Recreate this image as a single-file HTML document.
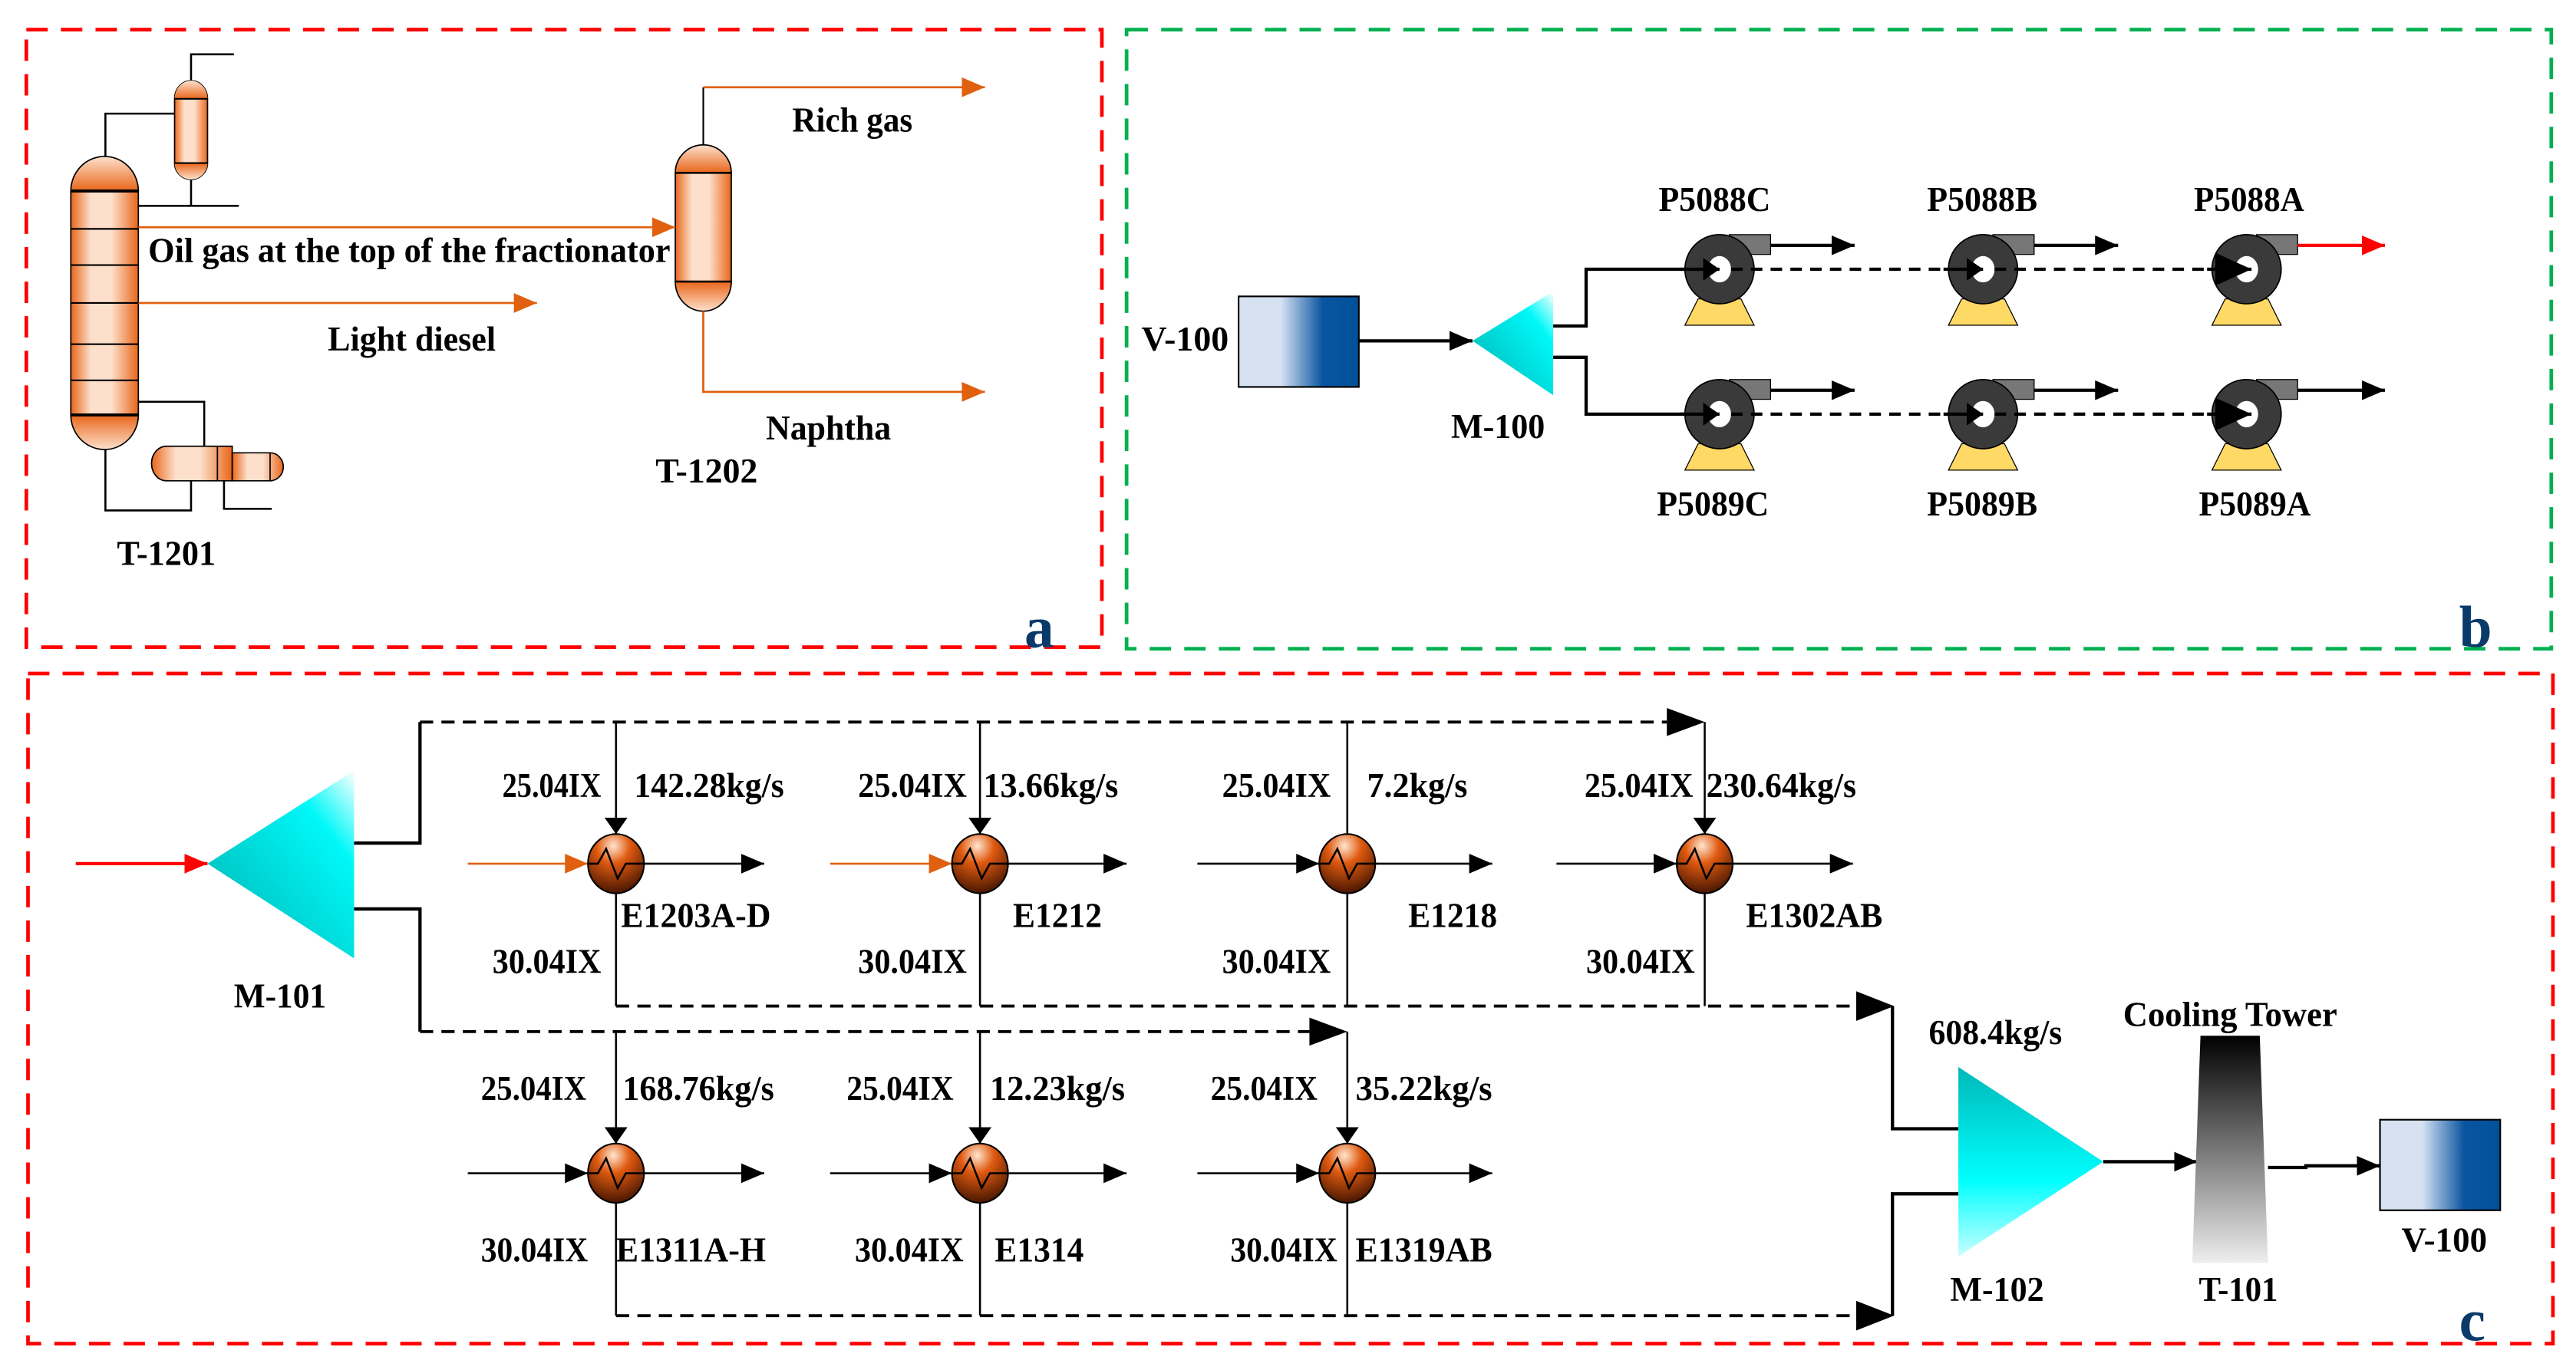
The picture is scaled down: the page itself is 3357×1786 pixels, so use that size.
<!DOCTYPE html>
<html><head><meta charset="utf-8"><style>
html,body{margin:0;padding:0;background:#fff;}
svg{display:block;}
text{font-family:"Liberation Serif",serif;font-weight:bold;fill:#000;}
</style></head><body>
<svg width="3357" height="1786" viewBox="0 0 1564 832" preserveAspectRatio="none" xmlns="http://www.w3.org/2000/svg">
<defs>
<marker id="ab" markerUnits="userSpaceOnUse" markerWidth="14" markerHeight="12" refX="14" refY="6" orient="auto"><path d="M0,0 L14,6 L0,12 z" fill="#000"/></marker>
<marker id="abs" markerUnits="userSpaceOnUse" markerWidth="10" markerHeight="14" refX="10" refY="7" orient="auto"><path d="M0,0 L10,7 L0,14 z" fill="#000"/></marker>
<marker id="abig" markerUnits="userSpaceOnUse" markerWidth="22" markerHeight="20" refX="22" refY="10" orient="auto"><path d="M0,0 L22,10 L0,20 z" fill="#000"/></marker>
<marker id="ao" markerUnits="userSpaceOnUse" markerWidth="14" markerHeight="12" refX="14" refY="6" orient="auto"><path d="M0,0 L14,6 L0,12 z" fill="#e06010"/></marker>
<marker id="ar" markerUnits="userSpaceOnUse" markerWidth="14" markerHeight="12" refX="14" refY="6" orient="auto"><path d="M0,0 L14,6 L0,12 z" fill="#ff0000"/></marker>
<linearGradient id="col" x1="0" x2="1" y1="0" y2="0"><stop offset="0" stop-color="#e8661a"/><stop offset="0.3" stop-color="#fde0cc"/><stop offset="0.6" stop-color="#fde0cc"/><stop offset="1" stop-color="#e8661a"/></linearGradient>
<linearGradient id="domeT" x1="0" x2="0" y1="0" y2="1"><stop offset="0" stop-color="#fde0cc"/><stop offset="1" stop-color="#e8661a"/></linearGradient>
<linearGradient id="domeB" x1="0" x2="0" y1="0" y2="1"><stop offset="0" stop-color="#e8661a"/><stop offset="1" stop-color="#fde0cc"/></linearGradient>
<linearGradient id="vessel" x1="0" x2="1"><stop offset="0" stop-color="#d6e2f2"/><stop offset="0.35" stop-color="#d6e2f2"/><stop offset="0.7" stop-color="#0a55a0"/><stop offset="1" stop-color="#00509a"/></linearGradient>
<linearGradient id="cyan1" x1="1" y1="0" x2="0" y2="1"><stop offset="0" stop-color="#ffffff"/><stop offset="0.25" stop-color="#00f8f8"/><stop offset="1" stop-color="#00b0b0"/></linearGradient>
<linearGradient id="cyan2" x1="0" y1="0" x2="0" y2="1"><stop offset="0" stop-color="#00b8b8"/><stop offset="0.6" stop-color="#00ffff"/><stop offset="1" stop-color="#c8ffff"/></linearGradient>
<linearGradient id="tower" x1="0" y1="0" x2="0" y2="1"><stop offset="0" stop-color="#000"/><stop offset="1" stop-color="#eeeeee"/></linearGradient>
<radialGradient id="he" cx="0.45" cy="0.2" r="0.85"><stop offset="0" stop-color="#ffe6d0"/><stop offset="0.35" stop-color="#e05a10"/><stop offset="1" stop-color="#3a1000"/></radialGradient>
<g id="hx"><ellipse cx="0" cy="0" rx="17" ry="18" fill="url(#he)" stroke="#000" stroke-width="1"/><path d="M-17,0 L-11,0 L-6,-9 L1,9 L6,0 L17,0" fill="none" stroke="#000" stroke-width="1.2"/></g>
<g id="pump">
<polygon points="-13,18 13,18 21,34 -21,34" fill="#ffd966" stroke="#000" stroke-width="0.6"/>
<rect x="6" y="-21" width="25" height="12" fill="#777" stroke="#000" stroke-width="0.6"/>
<circle cx="0" cy="0" r="21" fill="#3a3a3a" stroke="#000" stroke-width="0.8"/>
<ellipse cx="0" cy="0" rx="7" ry="8" fill="#fff"/>
</g>
</defs>

<rect x="16" y="18" width="653" height="375" fill="none" stroke="#ff0000" stroke-width="2.2" stroke-dasharray="13,8"/>
<rect x="684" y="18" width="865" height="376" fill="none" stroke="#00b050" stroke-width="2.2" stroke-dasharray="13,8"/>
<rect x="17" y="409" width="1533" height="407" fill="none" stroke="#ff0000" stroke-width="2.2" stroke-dasharray="13,8"/>

<g stroke="#000" stroke-width="1.2" fill="none">
<polyline points="116,49 116,33 142,33"/>
<polyline points="64,95 64,69 106,69"/>
<polyline points="116,109 116,125"/>
<line x1="84" y1="125" x2="145" y2="125"/>
<polyline points="84,244 124,244 124,271"/>
<polyline points="64,273 64,310 116,310 116,292"/>
<polyline points="136,292 136,309 165,309"/>
</g>
<path d="M106,60 A10,11 0 0 1 126,60 L126,99 A10,10 0 0 1 106,99 Z" fill="url(#col)" stroke="#000" stroke-width="0.8"/>
<path d="M106,60 A10,11 0 0 1 126,60 Z" fill="url(#domeT)"/>
<path d="M106,99 L126,99 A10,10 0 0 1 106,99 Z" fill="url(#domeB)"/>
<line x1="106" y1="60" x2="126" y2="60" stroke="#000" stroke-width="1"/>
<line x1="106" y1="99" x2="126" y2="99" stroke="#000" stroke-width="1"/>
<rect x="43" y="116" width="41" height="136" fill="url(#col)" stroke="#000" stroke-width="0.8"/>
<path d="M43,116 A20.5,21 0 0 1 84,116 Z" fill="url(#domeT)" stroke="#000" stroke-width="0.8"/>
<path d="M43,252 L84,252 A20.5,21 0 0 1 43,252 Z" fill="url(#domeB)" stroke="#000" stroke-width="0.8"/>
<g stroke="#000"><line x1="43" y1="116" x2="84" y2="116" stroke-width="1.8"/><line x1="43" y1="252" x2="84" y2="252" stroke-width="1.8"/>
<line x1="43" y1="139" x2="84" y2="139" stroke-width="1"/><line x1="43" y1="161" x2="84" y2="161" stroke-width="1"/><line x1="43" y1="184" x2="84" y2="184" stroke-width="1"/><line x1="43" y1="209" x2="84" y2="209" stroke-width="1"/><line x1="43" y1="231" x2="84" y2="231" stroke-width="1"/></g>
<path d="M101,271 L141,271 L141,292 L101,292 A9,10.5 0 0 1 101,271 Z" fill="url(#col)" stroke="#000" stroke-width="0.8"/>
<path d="M141,275 L164,275 A8,8.5 0 0 1 164,292 L141,292 Z" fill="url(#col)" stroke="#000" stroke-width="0.8"/>
<line x1="132" y1="271" x2="132" y2="292" stroke="#000" stroke-width="0.8"/>
<line x1="164" y1="275" x2="164" y2="292" stroke="#000" stroke-width="0.8"/>
<rect x="410" y="105" width="34" height="66" fill="url(#col)" stroke="#000" stroke-width="0.8"/>
<path d="M410,105 A17,17 0 0 1 444,105 Z" fill="url(#domeT)" stroke="#000" stroke-width="0.8"/>
<path d="M410,171 L444,171 A17,18 0 0 1 410,171 Z" fill="url(#domeB)" stroke="#000" stroke-width="0.8"/>
<line x1="410" y1="105" x2="444" y2="105" stroke="#000" stroke-width="1.2"/>
<line x1="410" y1="171" x2="444" y2="171" stroke="#000" stroke-width="1.2"/>
<line x1="427" y1="88" x2="427" y2="53" stroke="#000" stroke-width="1"/>
<g stroke="#e06010" stroke-width="1.3" fill="none">
<line x1="427" y1="53" x2="598" y2="53" marker-end="url(#ao)"/>
<polyline points="427,189 427,238 598,238" marker-end="url(#ao)"/>
<line x1="84" y1="138" x2="410" y2="138" marker-end="url(#ao)"/>
<line x1="84" y1="184" x2="326" y2="184" marker-end="url(#ao)"/>
</g>
<g font-size="21">
<text x="90" y="159" textLength="317" lengthAdjust="spacingAndGlyphs">Oil gas at the top of the fractionator</text>
<text x="199" y="213" textLength="102" lengthAdjust="spacingAndGlyphs">Light diesel</text>
<text x="481" y="80" textLength="73" lengthAdjust="spacingAndGlyphs">Rich gas</text>
<text x="465" y="267" textLength="76" lengthAdjust="spacingAndGlyphs">Naphtha</text>
<text x="398" y="293" textLength="62" lengthAdjust="spacingAndGlyphs">T-1202</text>
<text x="71" y="343" textLength="60" lengthAdjust="spacingAndGlyphs">T-1201</text>
</g>
<text x="622" y="393" font-size="36" style="fill:#0a3a6a" font-family="Liberation Serif">a</text>

<rect x="752" y="180" width="73" height="55" fill="url(#vessel)" stroke="#000" stroke-width="1"/>
<line x1="825" y1="207" x2="894" y2="207" stroke="#000" stroke-width="2" marker-end="url(#ab)"/>
<polygon points="894,207 943,177 943,240" fill="url(#cyan1)"/>
<polyline points="943,198 963,198 963,163.5 1040,163.5" fill="none" stroke="#000" stroke-width="2"/>
<polyline points="943,217 963,217 963,251.5 1040,251.5" fill="none" stroke="#000" stroke-width="2"/>
<use href="#pump" x="1044" y="163.5"/><use href="#pump" x="1204" y="163.5"/><use href="#pump" x="1364" y="163.5"/>
<use href="#pump" x="1044" y="251.5"/><use href="#pump" x="1204" y="251.5"/><use href="#pump" x="1364" y="251.5"/>
<g stroke="#000" stroke-width="2" fill="none">
<line x1="1020" y1="163.5" x2="1044" y2="163.5" marker-end="url(#abs)"/>
<line x1="1020" y1="251.5" x2="1044" y2="251.5" marker-end="url(#abs)"/>
<line x1="1051" y1="163.5" x2="1180" y2="163.5" stroke-dasharray="7,5"/>
<line x1="1180" y1="163.5" x2="1204" y2="163.5" marker-end="url(#abs)"/>
<line x1="1211" y1="163.5" x2="1340" y2="163.5" stroke-dasharray="7,5"/>
<line x1="1340" y1="163.5" x2="1367" y2="163.5" marker-end="url(#abig)"/>
<line x1="1051" y1="251.5" x2="1180" y2="251.5" stroke-dasharray="7,5"/>
<line x1="1180" y1="251.5" x2="1204" y2="251.5" marker-end="url(#abs)"/>
<line x1="1211" y1="251.5" x2="1340" y2="251.5" stroke-dasharray="7,5"/>
<line x1="1340" y1="251.5" x2="1367" y2="251.5" marker-end="url(#abig)"/>
<line x1="1075" y1="149" x2="1126" y2="149" marker-end="url(#ab)"/>
<line x1="1235" y1="149" x2="1286" y2="149" marker-end="url(#ab)"/>
<line x1="1075" y1="237" x2="1126" y2="237" marker-end="url(#ab)"/>
<line x1="1235" y1="237" x2="1286" y2="237" marker-end="url(#ab)"/>
<line x1="1395" y1="237" x2="1448" y2="237" marker-end="url(#ab)"/>
</g>
<line x1="1395" y1="149" x2="1448" y2="149" stroke="#ff0000" stroke-width="2" marker-end="url(#ar)"/>
<g font-size="21">
<text x="693" y="213" textLength="53" lengthAdjust="spacingAndGlyphs">V-100</text>
<text x="881" y="266" textLength="57" lengthAdjust="spacingAndGlyphs">M-100</text>
<text x="1007" y="128" textLength="68" lengthAdjust="spacingAndGlyphs">P5088C</text>
<text x="1170" y="128" textLength="67" lengthAdjust="spacingAndGlyphs">P5088B</text>
<text x="1332" y="128" textLength="67" lengthAdjust="spacingAndGlyphs">P5088A</text>
<text x="1006" y="313" textLength="68" lengthAdjust="spacingAndGlyphs">P5089C</text>
<text x="1170" y="313" textLength="67" lengthAdjust="spacingAndGlyphs">P5089B</text>
<text x="1335" y="313" textLength="68" lengthAdjust="spacingAndGlyphs">P5089A</text>
</g>
<text x="1493" y="393" font-size="36" style="fill:#0a3a6a" font-family="Liberation Serif">b</text>

<line x1="46" y1="524.5" x2="126" y2="524.5" stroke="#ff0000" stroke-width="2" marker-end="url(#ar)"/>
<polygon points="126,524.5 215,468 215,582" fill="url(#cyan1)"/>
<g fill="none" stroke="#000">
<polyline points="215,512 255,512 255,438.5" stroke-width="2"/>
<line x1="255" y1="438.5" x2="1012" y2="438.5" stroke-width="1.8" stroke-dasharray="8,5"/>
<polyline points="215,552 255,552 255,626.5" stroke-width="2"/>
<line x1="255" y1="626.5" x2="795" y2="626.5" stroke-width="1.8" stroke-dasharray="8,5"/>
<line x1="374" y1="611" x2="1128" y2="611" stroke-width="1.8" stroke-dasharray="8,5"/>
<line x1="374" y1="799" x2="1128" y2="799" stroke-width="1.8" stroke-dasharray="8,5"/>
<polyline points="1149,611 1149,685.5 1189,685.5" stroke-width="2"/>
<polyline points="1149,799 1149,725 1189,725" stroke-width="2"/>
<line x1="374" y1="438.5" x2="374" y2="506.5" stroke-width="1.2" marker-end="url(#abs)"/>
<line x1="595" y1="438.5" x2="595" y2="506.5" stroke-width="1.2" marker-end="url(#abs)"/>
<line x1="818" y1="438.5" x2="818" y2="506.5" stroke-width="1.2"/>
<line x1="1035" y1="438.5" x2="1035" y2="506.5" stroke-width="1.2" marker-end="url(#abs)"/>
<line x1="374" y1="542" x2="374" y2="611" stroke-width="1.2"/>
<line x1="595" y1="542" x2="595" y2="611" stroke-width="1.2"/>
<line x1="818" y1="542" x2="818" y2="611" stroke-width="1.2"/>
<line x1="1035" y1="542" x2="1035" y2="611" stroke-width="1.2"/>
<line x1="374" y1="626.5" x2="374" y2="694.5" stroke-width="1.2" marker-end="url(#abs)"/>
<line x1="595" y1="626.5" x2="595" y2="694.5" stroke-width="1.2" marker-end="url(#abs)"/>
<line x1="818" y1="626.5" x2="818" y2="694.5" stroke-width="1.2" marker-end="url(#abs)"/>
<line x1="374" y1="730" x2="374" y2="799" stroke-width="1.2"/>
<line x1="595" y1="730" x2="595" y2="799" stroke-width="1.2"/>
<line x1="818" y1="730" x2="818" y2="799" stroke-width="1.2"/>
<line x1="727" y1="524.5" x2="801" y2="524.5" stroke-width="1.2" marker-end="url(#ab)"/>
<line x1="945" y1="524.5" x2="1018" y2="524.5" stroke-width="1.2" marker-end="url(#ab)"/>
<line x1="284" y1="712.5" x2="357" y2="712.5" stroke-width="1.2" marker-end="url(#ab)"/>
<line x1="504" y1="712.5" x2="578" y2="712.5" stroke-width="1.2" marker-end="url(#ab)"/>
<line x1="727" y1="712.5" x2="801" y2="712.5" stroke-width="1.2" marker-end="url(#ab)"/>
<line x1="391" y1="524.5" x2="464" y2="524.5" stroke-width="1.2" marker-end="url(#ab)"/>
<line x1="612" y1="524.5" x2="684" y2="524.5" stroke-width="1.2" marker-end="url(#ab)"/>
<line x1="835" y1="524.5" x2="906" y2="524.5" stroke-width="1.2" marker-end="url(#ab)"/>
<line x1="1052" y1="524.5" x2="1125" y2="524.5" stroke-width="1.2" marker-end="url(#ab)"/>
<line x1="391" y1="712.5" x2="464" y2="712.5" stroke-width="1.2" marker-end="url(#ab)"/>
<line x1="612" y1="712.5" x2="684" y2="712.5" stroke-width="1.2" marker-end="url(#ab)"/>
<line x1="835" y1="712.5" x2="906" y2="712.5" stroke-width="1.2" marker-end="url(#ab)"/>
</g>
<g stroke="#e06010" stroke-width="1.2"><line x1="284" y1="524.5" x2="357" y2="524.5" marker-end="url(#ao)"/><line x1="504" y1="524.5" x2="578" y2="524.5" marker-end="url(#ao)"/></g>
<polygon points="1012,430 1035,438.5 1012,447" fill="#000"/>
<polygon points="795,618 818,626.5 795,635" fill="#000"/>
<polygon points="1127,602 1150,611 1127,620" fill="#000"/>
<polygon points="1127,790 1150,799 1127,808" fill="#000"/>
<use href="#hx" x="374" y="524.5"/><use href="#hx" x="595" y="524.5"/><use href="#hx" x="818" y="524.5"/><use href="#hx" x="1035" y="524.5"/>
<use href="#hx" x="374" y="712.5"/><use href="#hx" x="595" y="712.5"/><use href="#hx" x="818" y="712.5"/>
<polygon points="1189,648 1277,705.5 1189,763" fill="url(#cyan2)"/>
<line x1="1277" y1="705.5" x2="1334" y2="705.5" stroke="#000" stroke-width="2" marker-end="url(#ab)"/>
<polygon points="1336,629 1372,629 1377,767 1331,767" fill="url(#tower)"/>
<polyline points="1377,709 1400,709 1400,708 1445,708" fill="none" stroke="#000" stroke-width="2" marker-end="url(#ab)"/>
<rect x="1445" y="680" width="73" height="55" fill="url(#vessel)" stroke="#000" stroke-width="1"/>
<g font-size="21">
<text x="142" y="612" textLength="56" lengthAdjust="spacingAndGlyphs">M-101</text>
<text x="305" y="484" textLength="60" lengthAdjust="spacingAndGlyphs">25.04IX</text>
<text x="521" y="484" textLength="66" lengthAdjust="spacingAndGlyphs">25.04IX</text>
<text x="742" y="484" textLength="66" lengthAdjust="spacingAndGlyphs">25.04IX</text>
<text x="962" y="484" textLength="66" lengthAdjust="spacingAndGlyphs">25.04IX</text>
<text x="385" y="484" textLength="91" lengthAdjust="spacingAndGlyphs">142.28kg/s</text>
<text x="597" y="484" textLength="82" lengthAdjust="spacingAndGlyphs">13.66kg/s</text>
<text x="830" y="484" textLength="61" lengthAdjust="spacingAndGlyphs">7.2kg/s</text>
<text x="1036" y="484" textLength="91" lengthAdjust="spacingAndGlyphs">230.64kg/s</text>
<text x="377" y="563" textLength="91" lengthAdjust="spacingAndGlyphs">E1203A-D</text>
<text x="615" y="563" textLength="54" lengthAdjust="spacingAndGlyphs">E1212</text>
<text x="855" y="563" textLength="54" lengthAdjust="spacingAndGlyphs">E1218</text>
<text x="1060" y="563" textLength="83" lengthAdjust="spacingAndGlyphs">E1302AB</text>
<text x="299" y="591" textLength="66" lengthAdjust="spacingAndGlyphs">30.04IX</text>
<text x="521" y="591" textLength="66" lengthAdjust="spacingAndGlyphs">30.04IX</text>
<text x="742" y="591" textLength="66" lengthAdjust="spacingAndGlyphs">30.04IX</text>
<text x="963" y="591" textLength="66" lengthAdjust="spacingAndGlyphs">30.04IX</text>
<text x="292" y="668" textLength="64" lengthAdjust="spacingAndGlyphs">25.04IX</text>
<text x="514" y="668" textLength="65" lengthAdjust="spacingAndGlyphs">25.04IX</text>
<text x="735" y="668" textLength="65" lengthAdjust="spacingAndGlyphs">25.04IX</text>
<text x="378" y="668" textLength="92" lengthAdjust="spacingAndGlyphs">168.76kg/s</text>
<text x="601" y="668" textLength="82" lengthAdjust="spacingAndGlyphs">12.23kg/s</text>
<text x="823" y="668" textLength="83" lengthAdjust="spacingAndGlyphs">35.22kg/s</text>
<text x="292" y="766" textLength="65" lengthAdjust="spacingAndGlyphs">30.04IX</text>
<text x="519" y="766" textLength="66" lengthAdjust="spacingAndGlyphs">30.04IX</text>
<text x="747" y="766" textLength="65" lengthAdjust="spacingAndGlyphs">30.04IX</text>
<text x="374" y="766" textLength="91" lengthAdjust="spacingAndGlyphs">E1311A-H</text>
<text x="604" y="766" textLength="54" lengthAdjust="spacingAndGlyphs">E1314</text>
<text x="823" y="766" textLength="83" lengthAdjust="spacingAndGlyphs">E1319AB</text>
<text x="1171" y="634" textLength="81" lengthAdjust="spacingAndGlyphs">608.4kg/s</text>
<text x="1289" y="623" textLength="130" lengthAdjust="spacingAndGlyphs">Cooling Tower</text>
<text x="1184" y="790" textLength="57" lengthAdjust="spacingAndGlyphs">M-102</text>
<text x="1335" y="790" textLength="48" lengthAdjust="spacingAndGlyphs">T-101</text>
<text x="1458" y="760" textLength="52" lengthAdjust="spacingAndGlyphs">V-100</text>
</g>
<text x="1493" y="814" font-size="36" style="fill:#0a3a6a" font-family="Liberation Serif">c</text>
</svg>
</body></html>
